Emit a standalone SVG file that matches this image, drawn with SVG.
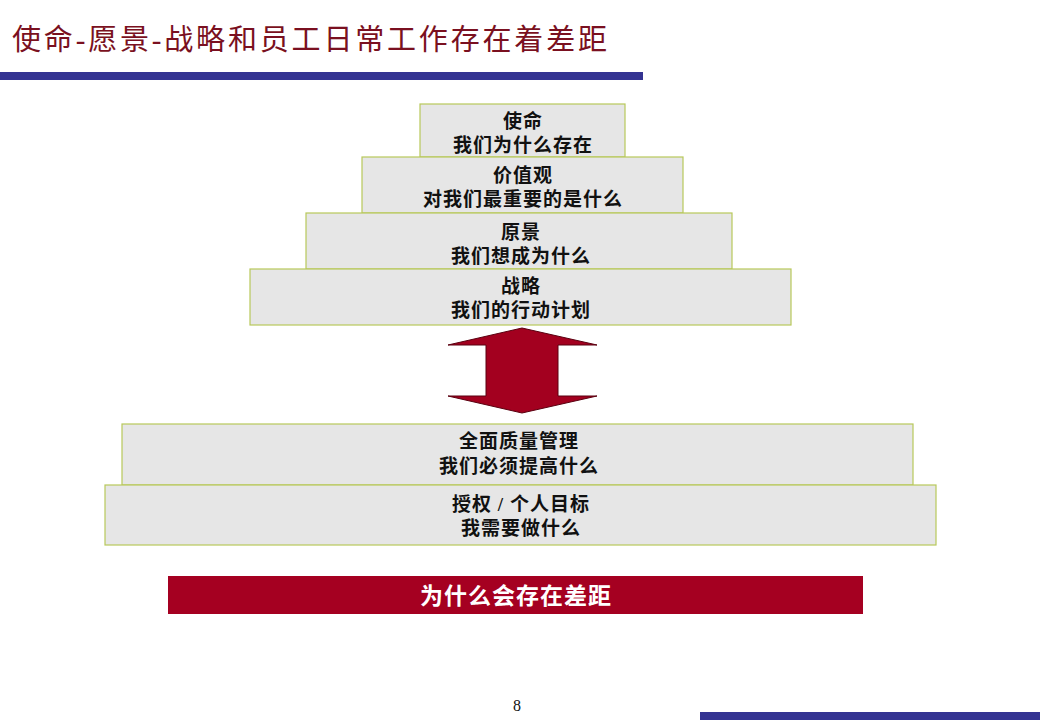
<svg xmlns="http://www.w3.org/2000/svg" width="1040" height="720" viewBox="0 0 1040 720">
<style>
.box{fill:#e6e6e6;stroke:#b8c85a;stroke-width:1.2}
.t{font-family:"Liberation Serif","Noto Sans CJK SC",serif;font-size:19px;font-weight:bold;fill:#111;text-anchor:middle;letter-spacing:1px}
.title{font-family:"Liberation Serif","Noto Sans CJK SC",serif;font-size:29px;fill:#7a1020}
.bar{fill:#343392}
</style>
<rect width="1040" height="720" fill="#fff"/>
<text class="title" x="12" y="50" textLength="595" lengthAdjust="spacing">使命-愿景-战略和员工日常工作存在着差距</text>
<rect class="bar" x="0" y="72" width="643" height="8"/>
<g id="mission"><rect class="box" x="420" y="104" width="205" height="53"/><text class="t" x="523" y="128">使命</text><text class="t" x="523" y="152">我们为什么存在</text></g>
<g id="values"><rect class="box" x="362" y="157" width="321" height="56"/><text class="t" x="523" y="182">价值观</text><text class="t" x="523" y="206">对我们最重要的是什么</text></g>
<g id="vision"><rect class="box" x="306" y="213" width="426" height="56"/><text class="t" x="521" y="239">原景</text><text class="t" x="521" y="263">我们想成为什么</text></g>
<g id="strategy"><rect class="box" x="250" y="269" width="541" height="56"/><text class="t" x="521" y="293">战略</text><text class="t" x="521" y="317">我们的行动计划</text></g>
<g id="connectors"><path d="M522,328 L597,345 L558,345 L558,396 L597,396 L522,413 L448,396 L486,396 L486,345 L448,345 Z" fill="#a3001f" stroke="#5a0010" stroke-width="1"/></g>
<g id="tqm"><rect class="box" x="122" y="424" width="791" height="61"/><text class="t" x="519" y="448">全面质量管理</text><text class="t" x="519" y="473">我们必须提高什么</text></g>
<g id="empower"><rect class="box" x="105" y="485" width="831" height="60"/><text class="t" x="521" y="511">授权 / 个人目标</text><text class="t" x="521" y="535">我需要做什么</text></g>
<g id="gap"><rect x="168" y="576" width="695" height="38" fill="#a50021"/><text x="516" y="604" font-family="Liberation Serif,Noto Sans CJK SC,serif" font-size="23" font-weight="bold" fill="#fff" text-anchor="middle" letter-spacing="1">为什么会存在差距</text></g>
<text x="517" y="711" font-family="Liberation Serif,serif" font-size="16" fill="#111" text-anchor="middle">8</text>
<rect class="bar" x="700" y="712" width="340" height="8"/>
</svg>
